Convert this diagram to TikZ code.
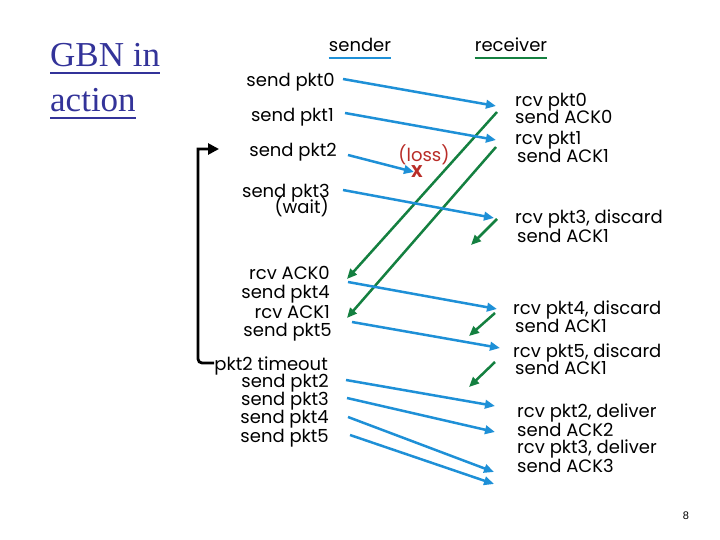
\documentclass[tikz,border=0pt]{standalone}
\usepackage{fontspec}
\setmainfont{Liberation Serif}
\setsansfont{Poppins}
\newfontfamily\pagefont{Liberation Sans}
\usetikzlibrary{arrows.meta}
\definecolor{pktblue}{RGB}{30,144,215}
\definecolor{ackgreen}{RGB}{20,128,64}
\definecolor{lossred}{RGB}{185,45,40}
\definecolor{titleblue}{RGB}{51,51,153}
\begin{document}
\begin{tikzpicture}[x=1pt,y=-1pt,
  lbl/.style={font=\sffamily\fontsize{18}{18}\selectfont, inner sep=0pt},
  sl/.style={lbl, anchor=base east},
  rl/.style={lbl, anchor=base west},
  pkt/.style={draw=pktblue, line width=2.5pt, -{Triangle[length=10pt,width=8.5pt]}},
  ack/.style={draw=ackgreen, line width=2.5pt, -{Triangle[length=10pt,width=8.5pt]}},
  titl/.style={font=\fontsize{35}{35}\selectfont, text=titleblue, inner sep=0pt, anchor=base west},
  ul/.style={titleblue, line width=2.2pt},
  lossx/.style={font=\sffamily\bfseries\fontsize{17}{17}\selectfont, text=lossred, inner sep=0pt}
]
\useasboundingbox[fill=white] (0,0) rectangle (720,540);

% title
\node[titl] (t1) at (50,67) {GBN in};
\node[titl] (t2) at (50,112) {action};
\draw[ul] ([yshift=-6pt]t1.base west) -- ([yshift=-6pt]t1.base east);
\draw[ul] ([yshift=-6pt]t2.base west) -- ([yshift=-6pt]t2.base east);

% headers
\node[lbl, anchor=base] (snd) at (360,52) {sender};
\node[lbl, anchor=base] (rcv) at (511,52) {receiver};
\draw[pktblue, line width=2.2pt] ([yshift=-6pt]snd.base west) -- ([yshift=-6pt]snd.base east);
\draw[ackgreen, line width=2.2pt] ([yshift=-6pt]rcv.base west) -- ([yshift=-6pt]rcv.base east);

% sender labels
\node[sl] (s0) at (335,87) {send pkt0};
\node[sl] (s1) at (334,122) {send pkt1};
\node[sl] (s2) at (337,157) {send pkt2};
\node[sl] (s3) at (330,197) {send pkt3};
\node[sl] (s3w) at (329,214) {(wait)};
\node[sl] (a0) at (330,279) {rcv ACK0};
\node[sl] (s4) at (330,298) {send pkt4};
\node[sl] (a1) at (330,318) {rcv ACK1};
\node[sl] (s5) at (332,336) {send pkt5};
\node[sl] (to) at (328,370) {pkt2 timeout};
\node[sl] (r2) at (329,387) {send pkt2};
\node[sl] (r3) at (329,405) {send pkt3};
\node[sl] (r4) at (329,423) {send pkt4};
\node[sl] (r5) at (329,442) {send pkt5};

% receiver labels
\node[rl] (c0) at (515,107) {rcv pkt0};
\node[rl] (k0) at (515,124) {send ACK0};
\node[rl] (c1) at (515,145) {rcv pkt1};
\node[rl] (k1) at (517,163) {send ACK1};
\node[rl] (c3) at (515,223) {rcv pkt3, discard};
\node[rl] (k3) at (517,242) {send ACK1};
\node[rl] (c4) at (513,314) {rcv pkt4, discard};
\node[rl] (k4) at (515,332) {send ACK1};
\node[rl] (c5) at (513,357) {rcv pkt5, discard};
\node[rl] (k5) at (515,374) {send ACK1};
\node[rl] (d2) at (517,417) {rcv pkt2, deliver};
\node[rl] (e2) at (517,436) {send ACK2};
\node[rl] (d3) at (517,453) {rcv pkt3, deliver};
\node[rl] (e3) at (517,472) {send ACK3};

% loss
\node[lbl, text=lossred, anchor=base] (loss) at (424,162) {(loss)};
\coordinate (lx) at (417,172);

% endpoints
\coordinate (p0a) at (343,79);  \coordinate (p0b) at (496,106);
\coordinate (p1a) at (345,113); \coordinate (p1b) at (496,140);
\coordinate (p2a) at (348,155); \coordinate (p2b) at (414,172);
\coordinate (p3a) at (343,190); \coordinate (p3b) at (494,218);
\coordinate (p4a) at (348,282); \coordinate (p4b) at (497,309);
\coordinate (p5a) at (352,322); \coordinate (p5b) at (500,348);
\coordinate (q2a) at (346,380); \coordinate (q2b) at (495,406);
\coordinate (q3a) at (347,398); \coordinate (q3b) at (495,432);
\coordinate (q4a) at (348,417); \coordinate (q4b) at (494,472);
\coordinate (q5a) at (350,435); \coordinate (q5b) at (494,484);

\coordinate (g0a) at (497,112); \coordinate (g0b) at (347,279);
\coordinate (g1a) at (496,147); \coordinate (g1b) at (347,318);
\coordinate (g2a) at (497,219); \coordinate (g2b) at (471,245);
\coordinate (g3a) at (495,313); \coordinate (g3b) at (469,336);
\coordinate (g4a) at (495,362); \coordinate (g4b) at (469,387);

% ack arrows (green)
\draw[ack] (g0a) -- (g0b);
\draw[ack] (g1a) -- (g1b);
\draw[ack] (g2a) -- (g2b);
\draw[ack] (g3a) -- (g3b);
\draw[ack] (g4a) -- (g4b);

% packet arrows (blue)
\draw[pkt] (p0a) -- (p0b);
\draw[pkt] (p1a) -- (p1b);
\draw[pkt] (p2a) -- (p2b);
\draw[pkt] (p3a) -- (p3b);
\draw[pkt] (p4a) -- (p4b);
\draw[pkt] (p5a) -- (p5b);
\draw[pkt] (q2a) -- (q2b);
\draw[pkt] (q3a) -- (q3b);
\draw[pkt] (q4a) -- (q4b);
\draw[pkt] (q5a) -- (q5b);
\node[lossx] (xmark) at (lx) {X};

% timer bracket
\coordinate (tmtop) at (219,149);
\coordinate (tmbot) at (214,363);
\coordinate (tmcorner) at (198,149);
\draw[black, line width=2.8pt, -{Triangle[length=11pt,width=11pt]}]
  [rounded corners=4pt] (tmbot) -- (198,363) [sharp corners] -- (tmcorner) -- (tmtop);

% page number
\node[font=\pagefont\fontsize{11}{11}\selectfont, inner sep=0pt] (pg) at (686,516) {8};
\end{tikzpicture}
\end{document}
